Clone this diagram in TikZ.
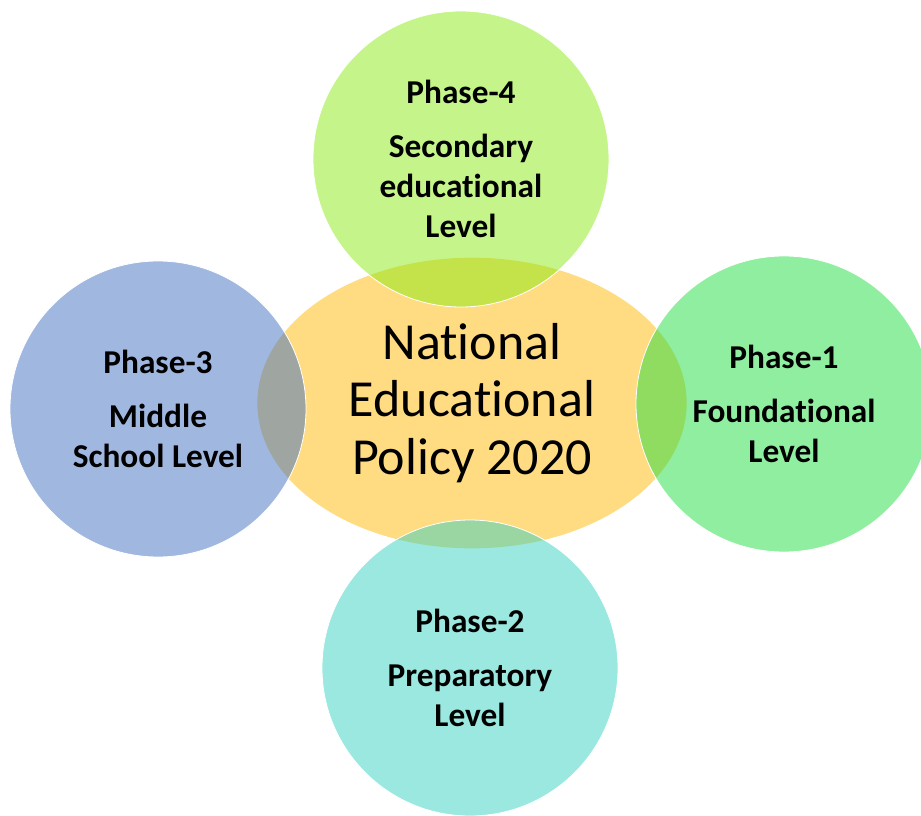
\documentclass[tikz,border=0pt]{standalone}
\usepackage{fontspec}
\setmainfont{Carlito}[Ligatures=NoCommon]
\usepackage{xcolor}
\usepackage{tikz}
\usetikzlibrary{shapes.geometric}

\definecolor{policyfill}{RGB}{255,220,130}
\definecolor{phaseone}{RGB}{33,221,65}
\definecolor{phasetwo}{RGB}{53,209,193}
\definecolor{phasethree}{RGB}{65,113,193}
\definecolor{phasefour}{RGB}{139,235,21}

\begin{document}
\begin{tikzpicture}[x=0.75pt, y=-0.75pt,
    policy/.style={ellipse, fill=policyfill, minimum width=322pt, minimum height=218pt,
        inner sep=0pt, align=center, font=\fontsize{39}{43}\selectfont},
    phase/.style={circle, minimum size=222pt, inner sep=0pt, fill opacity=0.5,
        text opacity=1, draw=white, line width=0.6pt, align=center,
        font=\fontsize{25}{30}\selectfont\bfseries}]
    % Frame
    \useasboundingbox (0,0) rectangle (921,816);

    % Central ellipse
    \node[policy] (nep) at (472,403) {National\\Educational\\Policy 2020};

    % The four phases
    \node[phase, fill=phasefour] (p4) at (461,159) {Phase-4\\[10pt]Secondary\\educational\\Level};
    \node[phase, fill=phasethree] (p3) at (158,409) {Phase-3\\[10pt]Middle\\School Level};
    \node[phase, fill=phaseone] (p1) at (784,404) {Phase-1\\[10pt]Foundational\\Level};
    \node[phase, fill=phasetwo] (p2) at (470,668) {Phase-2\\[10pt]Preparatory\\Level};
\end{tikzpicture}
\end{document}
